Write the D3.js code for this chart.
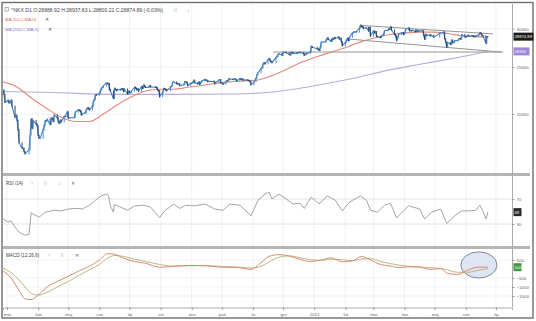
<!DOCTYPE html>
<html><head><meta charset="utf-8">
<script src="https://cdn.jsdelivr.net/npm/d3@7"></script>
<style>html,body{margin:0;padding:0;background:#fff;}svg{display:block;font-family:"Liberation Sans",Arial,sans-serif;}</style>
</head><body><svg id="c" width="536" height="321"></svg>
<script>
// ---------- DATA ----------
const priceDates = ["2020-02-26","2020-02-27","2020-02-28","2020-03-02","2020-03-03","2020-03-04","2020-03-05","2020-03-06","2020-03-09","2020-03-10","2020-03-11","2020-03-12","2020-03-13","2020-03-16","2020-03-17","2020-03-18","2020-03-19","2020-03-23","2020-03-24","2020-03-25","2020-03-26","2020-03-27","2020-03-30","2020-03-31","2020-04-01","2020-04-02","2020-04-03","2020-04-06","2020-04-07","2020-04-08","2020-04-09","2020-04-10","2020-04-13","2020-04-14","2020-04-15","2020-04-16","2020-04-17","2020-04-20","2020-04-21","2020-04-22","2020-04-23","2020-04-24","2020-04-27","2020-04-28","2020-04-30","2020-05-01","2020-05-07","2020-05-08","2020-05-11","2020-05-12","2020-05-13","2020-05-14","2020-05-15","2020-05-18","2020-05-19","2020-05-20","2020-05-21","2020-05-22","2020-05-25","2020-05-26","2020-05-27","2020-05-28","2020-05-29","2020-06-01","2020-06-02","2020-06-03","2020-06-04","2020-06-05","2020-06-08","2020-06-09","2020-06-10","2020-06-11","2020-06-12","2020-06-15","2020-06-16","2020-06-17","2020-06-18","2020-06-19","2020-06-22","2020-06-23","2020-06-24","2020-06-25","2020-06-26","2020-06-29","2020-06-30",
"2020-07-01","2020-07-02","2020-07-03","2020-07-06","2020-07-07","2020-07-08","2020-07-09","2020-07-10","2020-07-13","2020-07-14","2020-07-15","2020-07-16","2020-07-17","2020-07-20","2020-07-21","2020-07-22","2020-07-27","2020-07-28","2020-07-29","2020-07-30","2020-07-31",
"2020-08-03","2020-08-04","2020-08-05","2020-08-06","2020-08-07","2020-08-11","2020-08-12","2020-08-13","2020-08-14","2020-08-17","2020-08-18","2020-08-19","2020-08-20","2020-08-21","2020-08-24","2020-08-25","2020-08-26","2020-08-27","2020-08-28","2020-08-31",
"2020-09-01","2020-09-02","2020-09-03","2020-09-04","2020-09-07","2020-09-08","2020-09-09","2020-09-10","2020-09-11","2020-09-14","2020-09-15","2020-09-16","2020-09-17","2020-09-18","2020-09-23","2020-09-24","2020-09-25","2020-09-28","2020-09-29","2020-09-30",
"2020-10-02","2020-10-05","2020-10-06","2020-10-07","2020-10-08","2020-10-09","2020-10-12","2020-10-13","2020-10-14","2020-10-15","2020-10-16","2020-10-19","2020-10-20","2020-10-21","2020-10-22","2020-10-23","2020-10-26","2020-10-27","2020-10-28","2020-10-29","2020-10-30",
"2020-11-02","2020-11-04","2020-11-05","2020-11-06","2020-11-09","2020-11-10","2020-11-11","2020-11-12","2020-11-13","2020-11-16","2020-11-17","2020-11-18","2020-11-19","2020-11-20","2020-11-24","2020-11-25","2020-11-26","2020-11-27","2020-11-30",
"2020-12-01","2020-12-02","2020-12-03","2020-12-04","2020-12-07","2020-12-08","2020-12-09","2020-12-10","2020-12-11","2020-12-14","2020-12-15","2020-12-16","2020-12-17","2020-12-18","2020-12-21","2020-12-22","2020-12-23","2020-12-24","2020-12-25","2020-12-28","2020-12-29","2020-12-30",
"2021-01-04","2021-01-05","2021-01-06","2021-01-07","2021-01-08","2021-01-12","2021-01-13","2021-01-14","2021-01-15","2021-01-18","2021-01-19","2021-01-20","2021-01-21","2021-01-22","2021-01-25","2021-01-26","2021-01-27","2021-01-28","2021-01-29",
"2021-02-01","2021-02-02","2021-02-03","2021-02-04","2021-02-05","2021-02-08","2021-02-09","2021-02-10","2021-02-12","2021-02-15","2021-02-16","2021-02-17","2021-02-18","2021-02-19","2021-02-22","2021-02-24","2021-02-25","2021-02-26",
"2021-03-01","2021-03-02","2021-03-03","2021-03-04","2021-03-05","2021-03-08","2021-03-09","2021-03-10","2021-03-11","2021-03-12","2021-03-15","2021-03-16","2021-03-17","2021-03-18","2021-03-19","2021-03-22","2021-03-23","2021-03-24","2021-03-25","2021-03-26","2021-03-29","2021-03-30","2021-03-31",
"2021-04-01","2021-04-02","2021-04-05","2021-04-06","2021-04-07","2021-04-08","2021-04-09","2021-04-12","2021-04-13","2021-04-14","2021-04-15","2021-04-16","2021-04-19","2021-04-20","2021-04-21","2021-04-22","2021-04-23","2021-04-26","2021-04-27","2021-04-28","2021-04-30",
"2021-05-06","2021-05-07","2021-05-10","2021-05-11","2021-05-12","2021-05-13","2021-05-14","2021-05-17","2021-05-18","2021-05-19","2021-05-20","2021-05-21","2021-05-24","2021-05-25","2021-05-26","2021-05-27","2021-05-28","2021-05-31",
"2021-06-01","2021-06-02","2021-06-03","2021-06-04","2021-06-07","2021-06-08","2021-06-09","2021-06-10","2021-06-11","2021-06-14","2021-06-15","2021-06-16","2021-06-17","2021-06-18","2021-06-21","2021-06-22","2021-06-23"];
const priceCloses = [22426,21948,21142,21344,21082,21100,21329,20749,19698,19867,19416,18559,17431,17002,17011,16726,16552,16887,18092,19546,18664,19389,19084,18917,18065,17819,17820,18576,18950,19353,19345,19498,19043,19638,19550,19290,19897,19669,19281,19137,19429,19262,19783,19771,20193,19619,19674,20179,20390,20366,20267,19914,20037,20133,20433,20595,20552,20388,20741,21271,21419,21916,21877,22062,22325,22613,22695,22863,23178,23091,23124,22473,22305,21530,22582,22455,22355,22478,22437,22549,22534,22259,22512,21995,22288,
22121,22145,22306,22714,22614,22438,22529,22290,22784,22587,22945,22770,22696,22717,22884,22751,22715,22657,22397,22339,21710,
22195,22573,22514,22418,22329,22750,22843,23249,23289,23096,23051,23110,22880,22920,22985,23296,23290,23208,22882,23140,
23138,23247,23465,23205,23089,23274,23032,23235,23406,23559,23454,23475,23319,23360,23346,23087,23204,23511,23539,23185,
23029,23312,23433,23422,23647,23619,23558,23601,23626,23507,23410,23671,23567,23639,23474,23516,23494,23485,23418,23331,22977,
23295,23695,24105,24325,24839,24905,25349,25520,25385,25906,26014,25728,25634,25527,26165,26297,26537,26644,26433,
26787,26800,26809,26751,26547,26467,26817,26756,26652,26732,26687,26757,26806,26763,26714,26436,26524,26668,26656,26854,27568,27444,
27258,27158,27055,27490,28139,28164,28456,28698,28519,28242,28633,28523,28756,28631,28822,28546,28635,28197,27663,
28091,28362,28646,28341,28779,29388,29505,29562,29520,30084,30467,30292,30236,30017,30156,29671,30168,28966,
29664,29408,29559,28930,28864,28743,29028,29036,29212,29717,29766,29921,29914,30216,29792,29174,28995,28405,28729,29176,29384,29432,29178,
29388,29854,30089,29696,29730,29708,29768,29538,29751,29620,29642,29683,29685,29100,28508,29188,29020,29126,28991,29053,28812,
29331,29357,29518,28608,28147,27448,28084,27824,28406,28044,28098,28317,28364,28553,28642,28549,29149,28860,
28814,28946,29058,28941,29019,28963,28860,28958,28948,29161,29441,29291,29018,28964,28010,28884,28874.89];

const ma50Dates = ["2020-02-26","2020-03-10","2020-03-25","2020-04-10","2020-04-24","2020-05-08","2020-05-22","2020-06-05","2020-06-19","2020-07-03","2020-07-17","2020-07-31","2020-08-14","2020-08-28","2020-09-11","2020-09-25","2020-10-09","2020-10-23","2020-11-06","2020-11-20","2020-12-04","2020-12-18","2021-01-05","2021-01-22","2021-02-05","2021-02-19","2021-03-05","2021-03-19","2021-04-02","2021-04-16","2021-04-30","2021-05-14","2021-05-28","2021-06-11","2021-06-23"];
const ma50Values = [23300,22800,21600,20500,19700,19300,19300,20000,20900,21700,22300,22500,22500,22700,22900,23150,23300,23400,23500,24000,24700,25500,26300,27000,27600,28300,28800,29200,29400,29500,29500,29300,29000,28850,28850];

const ma200Dates = ["2020-02-26","2020-04-15","2020-06-15","2020-08-15","2020-10-15","2020-11-15","2020-12-15","2021-01-15","2021-02-15","2021-03-15","2021-04-15","2021-05-15","2021-06-01","2021-06-23"];
const ma200Values = [22250,22150,21950,21950,22000,22150,22550,23150,23850,24600,25300,25950,26350,26920];

const trendStartDates = ["2021-02-16","2021-02-03","2020-11-21"];
const trendStartValues = [30467,28560,26840];
const trendEndDates = ["2021-06-28","2021-07-06","2021-07-08"];
const trendEndValues = [29250,26840,26840];

const rsiDates = ["2020-02-26","2020-03-02","2020-03-05","2020-03-09","2020-03-13","2020-03-19","2020-03-23","2020-03-25","2020-03-27","2020-04-02","2020-04-08","2020-04-17","2020-04-24","2020-05-01","2020-05-08","2020-05-15","2020-05-22","2020-05-28","2020-06-03","2020-06-08","2020-06-10","2020-06-12","2020-06-15","2020-06-16","2020-06-22","2020-06-29","2020-07-06","2020-07-15","2020-07-22","2020-07-31","2020-08-05","2020-08-14","2020-08-20","2020-08-26","2020-09-04","2020-09-14","2020-09-24","2020-10-02","2020-10-09","2020-10-19","2020-10-30","2020-11-06","2020-11-13","2020-11-17","2020-11-20","2020-11-27","2020-12-04","2020-12-11","2020-12-18","2020-12-22","2020-12-29","2021-01-06","2021-01-14","2021-01-22","2021-01-29","2021-02-05","2021-02-16","2021-02-22","2021-02-26","2021-03-05","2021-03-12","2021-03-18","2021-03-24","2021-03-31","2021-04-05","2021-04-16","2021-04-21","2021-04-28","2021-05-07","2021-05-13","2021-05-21","2021-05-28","2021-06-04","2021-06-11","2021-06-15","2021-06-18","2021-06-21","2021-06-23"];
const rsiValues = [38,33,35,25,17,12,14,48,46,41,49,52,51,54,55,54,60,68,75,78,76,59,49,61,57,52,59,60,57,40,51,62,55,60,59,62,54,52,62,60,43,68,78,81,70,78,70,62,63,55,73,62,75,68,51,65,75,68,52,49,60,63,40,51,59,54,38,49,54,31,43,51,51,52,60,51,38,49];

const macdDates = ["2020-02-26","2020-03-05","2020-03-12","2020-03-19","2020-03-25","2020-04-01","2020-04-10","2020-04-20","2020-05-01","2020-05-12","2020-05-22","2020-06-01","2020-06-09","2020-06-16","2020-06-25","2020-07-06","2020-07-17","2020-07-31","2020-08-10","2020-08-20","2020-09-01","2020-09-15","2020-10-01","2020-10-15","2020-10-30","2020-11-09","2020-11-17","2020-11-27","2020-12-07","2020-12-17","2020-12-28","2021-01-08","2021-01-18","2021-01-29","2021-02-08","2021-02-17","2021-02-26","2021-03-08","2021-03-18","2021-03-26","2021-04-06","2021-04-16","2021-04-26","2021-05-07","2021-05-14","2021-05-24","2021-06-03","2021-06-14","2021-06-23"];
const macdValues = [-100,-500,-1100,-1650,-1700,-1450,-1000,-700,-400,-100,150,500,850,820,600,420,320,100,120,180,200,180,100,90,-20,350,700,800,720,550,420,500,620,400,450,700,500,250,170,80,120,100,-20,20,-250,-300,-60,110,100];
const signalValues = [50,-200,-550,-1000,-1350,-1450,-1300,-1000,-700,-350,-50,250,600,750,700,550,420,250,170,160,180,190,140,110,60,150,400,650,730,640,520,480,540,520,460,560,580,420,300,220,150,120,70,30,-60,-180,-180,-60,20];

const monthTickDates = ["2020-03-01","2020-04-01","2020-05-01","2020-06-01","2020-07-01","2020-08-01","2020-09-01","2020-10-01","2020-11-01","2020-12-01","2021-01-01","2021-02-01","2021-03-01","2021-04-01","2021-05-01","2021-06-01","2021-07-01"];
const monthTickLabels = ["mar","kwi","maj","cze","lip","sie","wrz","paź","lis","gru","2021","lut","mar","kwi","maj","cze","lip"];
const priceTicks = [20000,25000,30000];
const rsiTicks = [30,70];
const macdTicks = [-1500,-1000,-500,500];
const highlightDates = ["2021-05-27","2021-07-02"];
const highlightValues = [-500,950];

// ---------- CHART ----------
const parse = d3.timeParse("%Y-%m-%d");
const svg = d3.select("#c");
const L = 3, R = 512;
const P = {top:4, bottom:173}, RS = {top:176, bottom:246}, M = {top:249, bottom:307};

const x = d3.scaleTime().domain([parse("2020-02-26"), parse("2021-07-17")]).range([L, R]);
const yP = d3.scaleLog().domain([20000,25000]).range([114,67]);
const yR = d3.scaleLinear().domain([30,70]).range([224,199]);
const yM = d3.scaleLinear().domain([-500,500]).range([278,260]);

const price = priceDates.map((d,i)=>({d:parse(d), v:priceCloses[i]}));
const ma50 = ma50Dates.map((d,i)=>({d:parse(d), v:ma50Values[i]}));
const ma200 = ma200Dates.map((d,i)=>({d:parse(d), v:ma200Values[i]}));
const rsi = rsiDates.map((d,i)=>({d:parse(d), v:rsiValues[i]}));
const macd = macdDates.map((d,i)=>({d:parse(d), v:macdValues[i]}));
const sig = macdDates.map((d,i)=>({d:parse(d), v:signalValues[i]}));
const ticks = monthTickDates.map(parse);

// clip paths
const defs = svg.append("defs");
[["cp",P],["cr",RS],["cm",M]].forEach(([id,p])=>{
  defs.append("clipPath").attr("id",id).append("rect").attr("x",L).attr("y",p.top).attr("width",R-L).attr("height",p.bottom-p.top);
});

// vertical grid
[P,RS,M].forEach(p=>{
  svg.append("g").selectAll("line").data(ticks).join("line")
    .attr("x1",d=>x(d)).attr("x2",d=>x(d)).attr("y1",p.top).attr("y2",p.bottom)
    .attr("stroke","#eeeeee").attr("stroke-width",0.8);
});
// horizontal grids
svg.append("g").selectAll("line").data(priceTicks).join("line")
  .attr("x1",L).attr("x2",R).attr("y1",d=>yP(d)).attr("y2",d=>yP(d)).attr("stroke","#ececec").attr("stroke-width",0.8);
svg.append("g").selectAll("line").data(rsiTicks).join("line")
  .attr("x1",L).attr("x2",R).attr("y1",d=>yR(d)).attr("y2",d=>yR(d)).attr("stroke","#dddddd").attr("stroke-width",0.8);
svg.append("g").selectAll("line").data(macdTicks).join("line")
  .attr("x1",L).attr("x2",R).attr("y1",d=>yM(d)).attr("y2",d=>yM(d)).attr("stroke","#f0f0f0").attr("stroke-width",0.8);

// ---- price panel ----
const gp = svg.append("g").attr("clip-path","url(#cp)");
gp.append("path").datum(ma200).attr("fill","none").attr("stroke","#b8acdf").attr("stroke-width",1.1)
  .attr("d", d3.line().x(d=>x(d.d)).y(d=>yP(d.v)).curve(d3.curveMonotoneX));
gp.append("path").datum(ma50).attr("fill","none").attr("stroke","#e6897c").attr("stroke-width",1.1)
  .attr("d", d3.line().x(d=>x(d.d)).y(d=>yP(d.v)).curve(d3.curveMonotoneX));
// trendlines
const trends = trendStartDates.map((d,i)=>({a:parse(d), av:trendStartValues[i], b:parse(trendEndDates[i]), bv:trendEndValues[i]}));
gp.append("g").selectAll("line").data(trends).join("line")
  .attr("x1",t=>x(t.a)).attr("y1",t=>yP(t.av)).attr("x2",t=>x(t.b)).attr("y2",t=>yP(t.bv))
  .attr("stroke","#959595").attr("stroke-width",1);
// price line
gp.append("path").datum(price).attr("fill","none").attr("stroke","#4584c6").attr("stroke-width",1.1)
  .attr("d", d3.line().x(d=>x(d.d)).y(d=>yP(d.v)));
// tiny candles (open = previous close)
gp.append("g").selectAll("line").data(price.slice(1)).join("line")
  .attr("x1",d=>x(d.d)).attr("x2",d=>x(d.d))
  .attr("y1",(d,i)=>Math.min(yP(price[i].v),yP(d.v))-0.6)
  .attr("y2",(d,i)=>Math.max(yP(price[i].v),yP(d.v))+0.6)
  .attr("stroke",(d,i)=>d.v>=price[i].v?"#3f80c4":"#24385a").attr("stroke-width",0.9);

// ---- RSI panel ----
const gr = svg.append("g").attr("clip-path","url(#cr)");
gr.append("path").datum(rsi).attr("fill","none").attr("stroke","#9a9a9a").attr("stroke-width",0.9)
  .attr("d", d3.line().x(d=>x(d.d)).y(d=>yR(d.v)));

// ---- MACD panel ----
const gm = svg.append("g").attr("clip-path","url(#cm)");
const hx0 = x(parse(highlightDates[0])), hx1 = x(parse(highlightDates[1]));
const hy0 = yM(highlightValues[1]), hy1 = yM(highlightValues[0]);
gm.append("ellipse").attr("cx",(hx0+hx1)/2).attr("cy",(hy0+hy1)/2).attr("rx",(hx1-hx0)/2).attr("ry",(hy1-hy0)/2)
  .attr("fill","#dfe5f3").attr("stroke","#7f8899").attr("stroke-width",1);
gm.append("path").datum(sig).attr("fill","none").attr("stroke","#bcb882").attr("stroke-width",1)
  .attr("d", d3.line().x(d=>x(d.d)).y(d=>yM(d.v)).curve(d3.curveMonotoneX));
gm.append("path").datum(macd).attr("fill","none").attr("stroke","#dc8a74").attr("stroke-width",1)
  .attr("d", d3.line().x(d=>x(d.d)).y(d=>yM(d.v)).curve(d3.curveMonotoneX));

// ---- frames ----
svg.append("rect").attr("x",L).attr("y",P.bottom).attr("width",530-L).attr("height",3).attr("fill","#b5b5b5");
svg.append("rect").attr("x",L).attr("y",RS.bottom).attr("width",530-L).attr("height",3).attr("fill","#b5b5b5");
svg.append("line").attr("x1",R+0.5).attr("x2",R+0.5).attr("y1",P.top).attr("y2",M.bottom).attr("stroke","#aaaaaa").attr("stroke-width",1);
svg.append("rect").attr("x",2).attr("y",2.5).attr("width",531).attr("height",315.5).attr("fill","none").attr("stroke","#6e6e6e").attr("stroke-width",1.4);

// ---- axes ----
const fs = "4.4px";
const ax = svg.append("g").attr("transform",`translate(0,${M.bottom+0.5})`)
  .call(d3.axisBottom(x).tickValues(ticks).tickFormat((d,i)=>monthTickLabels[i]).tickSize(2.5).tickPadding(2.5));
ax.select(".domain").attr("stroke","#aaa");
ax.selectAll(".tick line").attr("stroke","#999");
ax.selectAll("text").attr("font-size",fs).attr("fill","#666").attr("font-family","Liberation Sans, Arial, sans-serif");

function rightAxis(scale, vals, fmt){
  const g = svg.append("g").attr("transform",`translate(${R+0.5},0)`)
    .call(d3.axisRight(scale).tickValues(vals).tickFormat(fmt).tickSize(2).tickPadding(2));
  g.select(".domain").remove();
  g.selectAll(".tick line").attr("stroke","#999");
  g.selectAll("text").attr("font-size",fs).attr("fill","#666").attr("font-family","Liberation Sans, Arial, sans-serif");
}
rightAxis(yP, priceTicks, d3.format("d"));
rightAxis(yR, rsiTicks, d3.format("d"));
rightAxis(yM, macdTicks, d3.format("d"));

// value boxes
function valBox(yv, w, fill, txt){
  svg.append("rect").attr("x",R+1.5).attr("y",yv-4).attr("width",w).attr("height",8).attr("fill",fill);
  svg.append("text").attr("x",R+2.5).attr("y",yv+1.6).attr("font-size","4.2px").attr("fill","#fff").text(txt);
}
const lastP = priceCloses[priceCloses.length-1];
valBox(yP(lastP), 20, "#1b1b1b", d3.format(".2f")(lastP));
valBox(yP(ma200Values[ma200Values.length-1]), 16, "#9d86d8", d3.format("d")(ma200Values[ma200Values.length-1]));
valBox(yR(rsiValues[rsiValues.length-1]), 8, "#2a2a2a", d3.format("d")(rsiValues[rsiValues.length-1]));
valBox(yM(macdValues[macdValues.length-1]), 8, "#3f9a3c", d3.format("d")(macdValues[macdValues.length-1]));

// ---- legends ----
const lf = "Liberation Sans, Arial, sans-serif";
svg.append("rect").attr("x",5).attr("y",7.5).attr("width",3.5).attr("height",3.5).attr("fill","none").attr("stroke","#888").attr("stroke-width",0.6);
svg.append("text").attr("x",11).attr("y",11.5).attr("font-size","4.6px").attr("fill","#444").attr("font-family",lf)
  .attr("textLength",152).attr("lengthAdjust","spacingAndGlyphs")
  .text("^NKX  D1  O:28888.92  H:28937.83  L:28800.21  C:28874.89  (-0.03%)");
svg.append("text").attr("x",174).attr("y",11.5).attr("font-size","5px").attr("fill","#666").text("⁞⁞");
svg.append("text").attr("x",187).attr("y",11.5).attr("font-size","5px").attr("fill","#666").text("↓");
svg.append("text").attr("x",5).attr("y",21).attr("font-size","4.4px").attr("fill","#e0685c").attr("font-family",lf).text("MA (50,C,MA,0)");
svg.append("text").attr("x",45).attr("y",21).attr("font-size","4.6px").attr("fill","#555").text("✕");
svg.append("text").attr("x",5).attr("y",30.5).attr("font-size","4.4px").attr("fill","#8c78cf").attr("font-family",lf).text("MA (200,C,MA,0)");
svg.append("text").attr("x",48).attr("y",30.5).attr("font-size","4.6px").attr("fill","#555").text("✕");

svg.append("text").attr("x",6).attr("y",184.5).attr("font-size","4.6px").attr("fill","#444").attr("font-family",lf).text("RSI (14)");
[["↑",31],["⁞⁞",44],["↓",58],["✕",71]].forEach(([t,xx])=>svg.append("text").attr("x",xx).attr("y",184.5).attr("font-size","4.6px").attr("fill","#666").text(t));
svg.append("text").attr("x",6).attr("y",256.5).attr("font-size","4.6px").attr("fill","#444").attr("font-family",lf).text("MACD (12,26,9)");
[["↑",48],["⁞⁞",61],["✕",75]].forEach(([t,xx])=>svg.append("text").attr("x",xx).attr("y",256.5).attr("font-size","4.6px").attr("fill","#666").text(t));
</script></body></html>
